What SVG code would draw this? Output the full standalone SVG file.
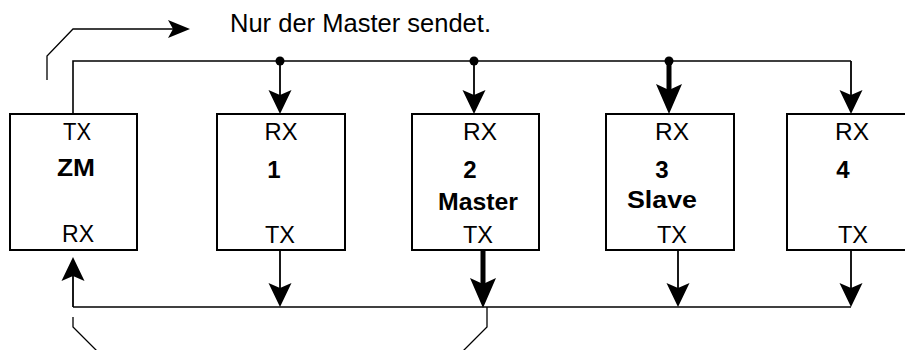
<svg xmlns="http://www.w3.org/2000/svg" width="905" height="350" viewBox="0 0 905 350">
<style>
.box{fill:#fff;stroke:#000;stroke-width:2}
.bus{fill:none;stroke:#000;stroke-width:1.6}
.thin{fill:none;stroke:#000;stroke-width:1.8}
.thick{fill:none;stroke:#000;stroke-width:5}
.note{fill:none;stroke:#000;stroke-width:1.3}
.lbl{font-family:"Liberation Sans",Arial,sans-serif;font-size:24px;fill:#000;text-anchor:middle}
.b{font-weight:bold}
.title{font-family:"Liberation Sans",Arial,sans-serif;font-size:25px;fill:#000}
</style>
<defs>
<marker id="aThin" markerUnits="userSpaceOnUse" viewBox="0 -12 25 24" markerWidth="25" markerHeight="24" refX="5" refY="0" orient="auto">
<path d="M0,-11.5 L24,0 L0,11.5 L5,0 Z" fill="#000"/>
</marker>
<marker id="aThick" markerUnits="userSpaceOnUse" viewBox="0 -14 31 28" markerWidth="31" markerHeight="28" refX="6" refY="0" orient="auto">
<path d="M0,-13 L30,0 L0,13 L6,0 Z" fill="#000"/>
</marker>
<marker id="aNote" markerUnits="userSpaceOnUse" viewBox="0 -10 23 20" markerWidth="23" markerHeight="20" refX="5" refY="0" orient="auto">
<path d="M0,-9 L22,0 L0,9 L5,0 Z" fill="#000"/>
</marker>
</defs>

<text class="title" x="230" y="32" textLength="261" lengthAdjust="spacingAndGlyphs">Nur der Master sendet.</text>

<g id="connectors">
<path class="bus" d="M73,114 V61 H851"/>
<path class="bus" d="M73,307 H851"/>
<circle cx="280" cy="61" r="4.5" fill="#000"/>
<circle cx="474" cy="61" r="4.5" fill="#000"/>
<circle cx="669" cy="61" r="4.5" fill="#000"/>
<line class="thin" x1="280" y1="61" x2="280" y2="95" marker-end="url(#aThin)"/>
<line class="thin" x1="474" y1="61" x2="474" y2="95" marker-end="url(#aThin)"/>
<line class="thick" x1="669" y1="61" x2="669" y2="90" marker-end="url(#aThick)"/>
<line class="thin" x1="851" y1="61" x2="851" y2="95" marker-end="url(#aThin)"/>
<line class="thin" x1="280" y1="250" x2="280" y2="288" marker-end="url(#aThin)"/>
<line class="thick" x1="483" y1="250" x2="483" y2="284" marker-end="url(#aThick)"/>
<line class="thin" x1="678" y1="250" x2="678" y2="288" marker-end="url(#aThin)"/>
<line class="thin" x1="851" y1="250" x2="851" y2="288" marker-end="url(#aThin)"/>
<line class="thin" x1="73" y1="307" x2="73" y2="276" marker-end="url(#aThin)"/>
<path class="note" d="M47,80 V56 L73,29 H173" marker-end="url(#aNote)"/>
<path class="note" d="M73,317 V327 L97,351"/>
<path class="note" d="M487,307 V327 L463,351"/>
</g>

<g id="node-zm">
<rect class="box" x="10" y="114" width="127" height="136"/>
<text class="lbl" x="77" y="140" textLength="28" lengthAdjust="spacingAndGlyphs">TX</text>
<text class="lbl b" x="76" y="176" textLength="38" lengthAdjust="spacingAndGlyphs">ZM</text>
<text class="lbl" x="78" y="242" textLength="32" lengthAdjust="spacingAndGlyphs">RX</text>
</g>

<g id="node-1">
<rect class="box" x="217" y="114" width="128" height="136"/>
<text class="lbl" x="281" y="140" textLength="33" lengthAdjust="spacingAndGlyphs">RX</text>
<text class="lbl b" x="274" y="178">1</text>
<text class="lbl" x="280" y="243" textLength="30" lengthAdjust="spacingAndGlyphs">TX</text>
</g>

<g id="node-2">
<rect class="box" x="412" y="114" width="127" height="136"/>
<text class="lbl" x="480" y="140" textLength="34" lengthAdjust="spacingAndGlyphs">RX</text>
<text class="lbl b" x="470" y="178">2</text>
<text class="lbl b" x="478" y="210" textLength="80" lengthAdjust="spacingAndGlyphs">Master</text>
<text class="lbl" x="478" y="243" textLength="30" lengthAdjust="spacingAndGlyphs">TX</text>
</g>

<g id="node-3">
<rect class="box" x="606" y="114" width="128" height="136"/>
<text class="lbl" x="672" y="140" textLength="34" lengthAdjust="spacingAndGlyphs">RX</text>
<text class="lbl b" x="662" y="178">3</text>
<text class="lbl b" x="662" y="208" textLength="70" lengthAdjust="spacingAndGlyphs">Slave</text>
<text class="lbl" x="672" y="243" textLength="30" lengthAdjust="spacingAndGlyphs">TX</text>
</g>

<g id="node-4">
<rect class="box" x="787" y="114" width="130" height="136"/>
<text class="lbl" x="852" y="140" textLength="34" lengthAdjust="spacingAndGlyphs">RX</text>
<text class="lbl b" x="843" y="178">4</text>
<text class="lbl" x="853" y="243" textLength="30" lengthAdjust="spacingAndGlyphs">TX</text>
</g>
</svg>
